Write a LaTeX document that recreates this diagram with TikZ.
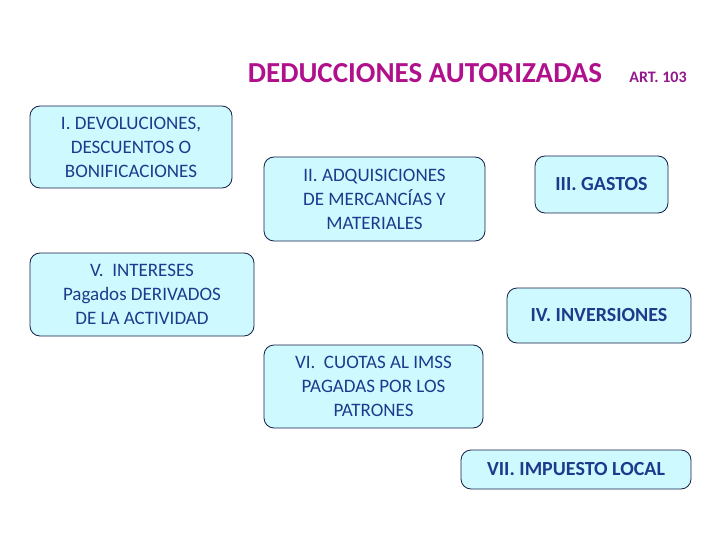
\documentclass[tikz,border=0pt]{standalone}
\usepackage{fontspec}
\setmainfont{Carlito}
\definecolor{boxfill}{RGB}{206,250,255}
\definecolor{boxline}{RGB}{20,30,70}
\definecolor{boxtext}{RGB}{30,58,140}
\definecolor{titlecol}{RGB}{176,16,140}
\begin{document}
\begin{tikzpicture}[
        x=1pt, y=-1pt,
        box/.style={
            draw=boxline,
            fill=boxfill,
            line width=0.8pt,
            rounded corners=10pt,
            align=center,
            text=boxtext,
            inner sep=0pt,
            font=\fontsize{19}{24}\selectfont
        },
        boldbox/.style={
            box,
            font=\fontsize{20}{24}\selectfont\bfseries
        }
    ]
        \useasboundingbox (0,0) rectangle (720,540);

        % Title
        \node[text=titlecol, font=\fontsize{29}{34}\selectfont\bfseries] (title) at (425,73) {DEDUCCIONES AUTORIZADAS};
        \node[text=titlecol!80!boxtext, font=\fontsize{16}{20}\selectfont\bfseries] (art) at (658,77) {ART. 103};

        % I
        \node[box, minimum width=202pt, minimum height=82pt] (dev) at (131,147) {
            I. DEVOLUCIONES,\\
            DESCUENTOS O\\
            BONIFICACIONES
        };

        % II
        \node[box, minimum width=221pt, minimum height=84pt] (adq) at (374.5,199) {
            II. ADQUISICIONES\\
            DE MERCANCÍAS Y\\
            MATERIALES
        };

        % III
        \node[boldbox, minimum width=133pt, minimum height=57pt] (gas) at (601.5,184.5) {III. GASTOS};

        % V
        \node[box, minimum width=224pt, minimum height=83pt] (int) at (142,294.5) {
            V.~ INTERESES\\
            Pagados DERIVADOS\\
            DE LA ACTIVIDAD
        };

        % IV
        \node[boldbox, minimum width=184pt, minimum height=55pt] (inv) at (599,315.5) {IV. INVERSIONES};

        % VI
        \node[box, minimum width=219pt, minimum height=83pt] (cuo) at (373.5,386.5) {
            VI.~ CUOTAS AL IMSS\\
            PAGADAS POR LOS\\
            PATRONES
        };

        % VII
        \node[boldbox, minimum width=230pt, minimum height=39pt] (imp) at (576,469.5) {VII. IMPUESTO LOCAL};
    \end{tikzpicture}
\end{document}
